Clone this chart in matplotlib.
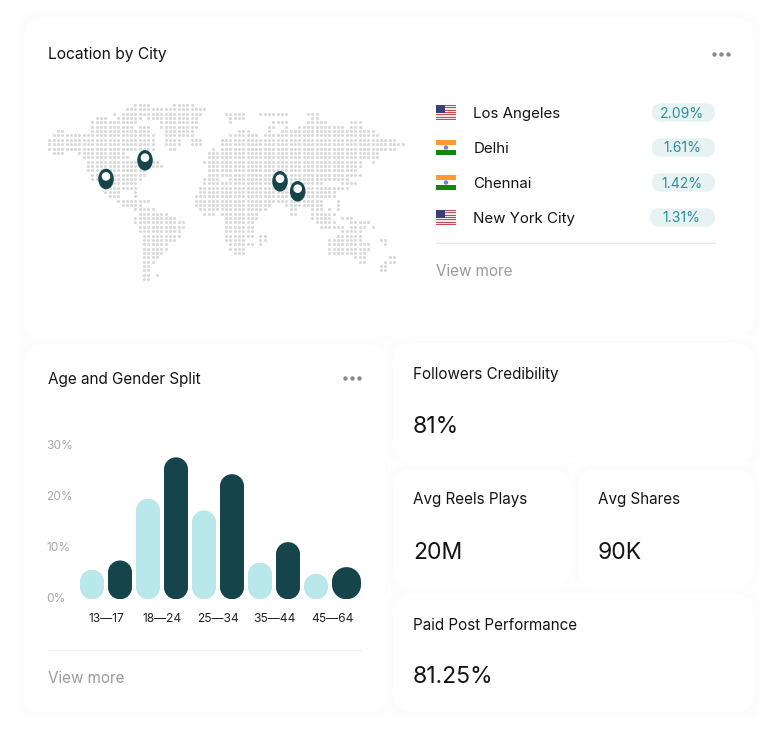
import matplotlib
matplotlib.use("Agg")
import matplotlib.pyplot as plt
import numpy as np
from matplotlib.patches import FancyBboxPatch, Ellipse, Rectangle
from matplotlib.path import Path
from matplotlib.transforms import IdentityTransform, ScaledTranslation

plt.rcParams['font.family'] = ['Inter', 'DejaVu Sans']

# ---- data ----
AGE_GROUPS = ['13—17', '18—24', '25—34', '35—44', '45—64']
LIGHT_VALUES = [5.8, 19.7, 17.4, 7.2, 5.0]
DARK_VALUES = [7.6, 27.8, 24.5, 11.2, 6.3]
Y_TICKS = [0, 10, 20, 30]
Y_LABELS = ['0%', '10%', '20%', '30%']
CITIES = ['Los Angeles', 'Delhi', 'Chennai', 'New York City']
CITY_SHARES = ['2.09%', '1.61%', '1.42%', '1.31%']
CITY_FLAGS = ['us', 'in', 'in', 'us']
PIN_PIXELS = [(106, 179), (145, 160.3), (280, 181.3), (297.7, 191.3)]
METRICS = [('Followers Credibility', '81%'), ('Avg Reels Plays', '20M'),
           ('Avg Shares', '90K'), ('Paid Post Performance', '81.25%')]
# dotted world map: for each grid row, inclusive column spans
MAP_ROWS = [
    [(20, 23), (29, 33)],
    [(18, 36)],
    [(15, 15), (17, 35), (41, 45), (49, 55), (60, 62)],
    [(11, 13), (16, 21), (23, 34), (42, 45), (61, 62)],
    [(10, 20), (26, 34), (42, 42), (52, 55), (60, 64), (70, 72)],
    [(10, 19), (21, 23), (26, 34), (51, 52), (55, 55), (58, 68), (70, 72)],
    [(2, 3), (10, 23), (27, 33), (44, 46), (51, 51), (54, 75)],
    [(1, 24), (27, 33), (42, 48), (50, 76)],
    [(0, 24), (27, 30), (33, 35), (40, 48), (49, 80)],
    [(0, 24), (27, 30), (33, 35), (40, 82)],
    [(0, 6), (7, 24), (28, 29), (38, 38), (40, 80)],
    [(1, 3), (7, 17), (37, 39), (40, 76)],
    [(8, 18), (37, 39), (40, 76)],
    [(9, 25), (36, 72), (75, 75)],
    [(9, 26), (37, 72)],
    [(9, 22), (37, 71)],
    [(10, 22), (37, 72)],
    [(10, 21), (36, 39), (42, 69)],
    [(12, 20), (36, 63), (68, 71)],
    [(13, 20), (35, 69)],
    [(13, 16), (20, 20), (35, 66)],
    [(14, 16), (20, 20), (34, 66)],
    [(16, 23), (34, 63), (67, 67)],
    [(17, 21), (34, 51), (55, 63), (67, 67)],
    [(20, 24), (35, 50), (56, 57), (61, 63), (65, 65), (67, 67)],
    [(21, 27), (36, 38), (40, 48), (56, 57), (61, 66)],
    [(20, 29), (41, 48), (61, 65), (68, 70)],
    [(20, 31), (41, 47), (62, 66), (70, 74)],
    [(21, 31), (41, 47), (63, 68), (70, 73), (75, 75)],
    [(21, 30), (41, 47), (68, 72)],
    [(22, 30), (41, 47), (49, 50), (67, 72)],
    [(22, 29), (41, 45), (49, 50), (65, 72), (77, 78)],
    [(22, 27), (42, 47), (49, 49), (65, 74), (78, 78)],
    [(22, 27), (42, 45), (65, 74)],
    [(22, 26), (43, 45), (65, 73)],
    [(22, 25), (71, 73), (79, 80)],
    [(22, 24), (72, 73), (78, 80)],
    [(22, 23), (77, 78)],
    [(22, 23), (77, 78)],
    [(22, 23), (25, 25)],
    [(22, 23)],
]

# ---- style ----
W, H = 778, 740
DARK = '#15454a'
LIGHT = '#b9e8eb'
INK = '#141414'
GREY = '#9a9a9a'
PX = 0.72  # points per pixel at dpi 100

fig = plt.figure(figsize=(W / 100, H / 100), dpi=100, facecolor='white')
bg = fig.add_axes([0, 0, 1, 1])
bg.set_xlim(0, W)
bg.set_ylim(H, 0)
bg.axis('off')


def card(x0, y0, x1, y1, r=20):
    for grow, col in [(10, '#fefefe'), (6, '#fdfdfd'), (3, '#fcfcfc')]:
        bg.add_patch(FancyBboxPatch((x0 - grow + r, y0 - grow + r), x1 - x0 + 2 * grow - 2 * r,
                                    y1 - y0 + 2 * grow - 2 * r,
                                    boxstyle=f'round,pad={r},rounding_size={r + grow * 0.5}',
                                    fc=col, ec='none', zorder=1))


CARDS = [(24, 18, 754, 336), (24, 345, 385, 712), (393, 343, 754, 462),
         (393, 469, 570, 587), (578, 469, 754, 587), (393, 594, 754, 712)]
for c in CARDS:
    card(*c)
for x0, y0, x1, y1 in CARDS:
    r = 20
    bg.add_patch(FancyBboxPatch((x0 + r, y0 + r), x1 - x0 - 2 * r, y1 - y0 - 2 * r,
                                boxstyle=f'round,pad={r},rounding_size={r}',
                                fc='white', ec='none', zorder=2))


def text(x, y, s, size=15, color=INK, **kw):
    bg.text(x, y, s, fontsize=size * PX, color=color, va='baseline', zorder=5, **kw)


def dots(cx, cy):
    bg.scatter([cx - 7, cx, cx + 7], [cy, cy, cy], s=(4.4 * PX) ** 2, c='#8a8a8a',
               linewidths=0, zorder=5)


# top card
text(48, 59.5, 'Location by City', size=15.6)
dots(721, 53.5)

mx, my = [], []
for r, spans in enumerate(MAP_ROWS):
    for a, b in spans:
        for c in range(a, b + 1):
            mx.append(49.3 + 4.31 * c)
            my.append(105 + 4.35 * r)
bg.scatter(mx, my, s=(3.1 * PX) ** 2, c='#d9d9d9', linewidths=0, zorder=3, snap=False)

for px, py in PIN_PIXELS:
    bg.add_patch(Ellipse((px, py), 15.5, 20.5, fc=DARK, ec='none', zorder=4))
    bg.add_patch(Ellipse((px, py - 2.6), 8.6, 8.6, fc='white', ec='none', zorder=5))


def flag(kind, x, y):
    w, h = 20, 15
    if kind == 'us':
        bg.add_patch(Rectangle((x, y), w, h, fc='#f4e9ea', ec='none', zorder=3))
        for i in range(0, 7):
            bg.add_patch(Rectangle((x, y + i * h / 6.5), w, h / 13, fc='#c4484f', ec='none', zorder=3))
        bg.add_patch(Rectangle((x, y), w * 0.45, h * 0.54, fc='#3a3f78', ec='none', zorder=4))
    else:
        bg.add_patch(Rectangle((x, y), w, h / 3, fc='#ff9933', ec='none', zorder=3))
        bg.add_patch(Rectangle((x, y + h / 3), w, h / 3, fc='#ffffff', ec='none', zorder=3))
        bg.add_patch(Rectangle((x, y + 2 * h / 3), w, h / 3, fc='#138808', ec='none', zorder=3))
        bg.add_patch(Ellipse((x + w / 2, y + h / 2), 4.4, 4.4, fc='#7c7cc8', ec='none', zorder=4))


PILL_LEFT = [652, 652, 652, 650]
for i, (city, share, fl) in enumerate(zip(CITIES, CITY_SHARES, CITY_FLAGS)):
    cy = 112.5 + 35 * i
    flag(fl, 436, cy - 7.5)
    text(473.5, cy + 5.7, city, size=15.1)
    left = PILL_LEFT[i]
    bg.add_patch(FancyBboxPatch((left + 9, cy - 0.2), 715 - left - 18, 0.4,
                                boxstyle='round,pad=9,rounding_size=9',
                                fc='#e7f3f3', ec='none', zorder=3))
    text((left + 715) / 2 - 1, cy + 5, share, size=14, color='#2f8e96', ha='center')

bg.plot([436, 715], [242.5, 242.5], color='#e8e8e8', lw=1.0, zorder=3)
text(436, 276, 'View more', color=GREY, size=15.2)

# age card
text(48, 384, 'Age and Gender Split', size=15.3)
dots(352, 378)
bg.plot([48, 361], [650, 650], color='#f1f1f1', lw=1.0, zorder=3)
text(48, 683, 'View more', color=GREY, size=15.2)

# bar chart: axes x spans 78..362 px, y baseline at 599.3 px
ax_top_px, ax_base_px = 440, 599.3
ax = fig.add_axes([78 / W, 1 - ax_base_px / H, 284 / W, (ax_base_px - ax_top_px) / H], zorder=3)
ax.patch.set_alpha(0)
ax.set_xlim(-0.5, 4.5714)
ax.set_ylim(0, (ax_base_px - ax_top_px) / 5.107)
for s in ax.spines.values():
    s.set_visible(False)
pitch = 56
light_x = [i - 26 / pitch for i in range(len(AGE_GROUPS))]
dark_x = [i + 2 / pitch for i in range(len(AGE_GROUPS))]
light_w = [24 / pitch] * len(AGE_GROUPS)
dark_w = [24 / pitch] * (len(AGE_GROUPS) - 1) + [29 / pitch]
b1 = ax.bar(light_x, LIGHT_VALUES, width=light_w, align='edge', color=LIGHT)
b2 = ax.bar(dark_x, DARK_VALUES, width=dark_w, align='edge', color=DARK)


def pill_path(x0, y0, x1, y1):
    """Capsule outline with true semicircular ends (display coordinates)."""
    r = (x1 - x0) / 2
    cx = (x0 + x1) / 2
    t = np.linspace(0, np.pi, 40)
    top = np.column_stack([cx + r * np.cos(t), y1 - r + r * np.sin(t)])
    bot = np.column_stack([cx - r * np.cos(t), y0 + r - r * np.sin(t)])
    return Path(np.vstack([top, bot, top[:1]]), closed=True)


for bar in list(b1) + list(b2):
    (x0, y0), (x1, y1) = ax.transData.transform(
        [(bar.get_x(), 0), (bar.get_x() + bar.get_width(), bar.get_height())])
    bar.set_clip_path(pill_path(x0, y0, x1, y1), IdentityTransform())

centers = [(l + d + w) / 2 for l, d, w in zip(light_x, dark_x, dark_w)]
ax.set_xticks(centers, AGE_GROUPS)
ax.set_yticks(Y_TICKS, Y_LABELS)
ax.tick_params(axis='x', length=0, pad=14 * PX, labelsize=12 * PX, labelcolor='#222222')
ax.tick_params(axis='y', length=0, pad=31.5 * PX, labelsize=12 * PX, labelcolor='#a8a8a8')
shift = ScaledTranslation(0, 1.5 / 100, fig.dpi_scale_trans)
for lab in ax.get_yticklabels():
    lab.set_ha('left')
    lab.set_transform(lab.get_transform() + shift)

# metric cards
POS = [(413, 379, 433.3), (413, 504, 559.3), (598, 504, 559.3), (413, 630, 683)]
for (title, value), (x, y1, y2) in zip(METRICS, POS):
    text(x, y1, title, size=15.2)
    text(x, y2, value, size=23)

fig.savefig('out.png', dpi=100, facecolor='white')
